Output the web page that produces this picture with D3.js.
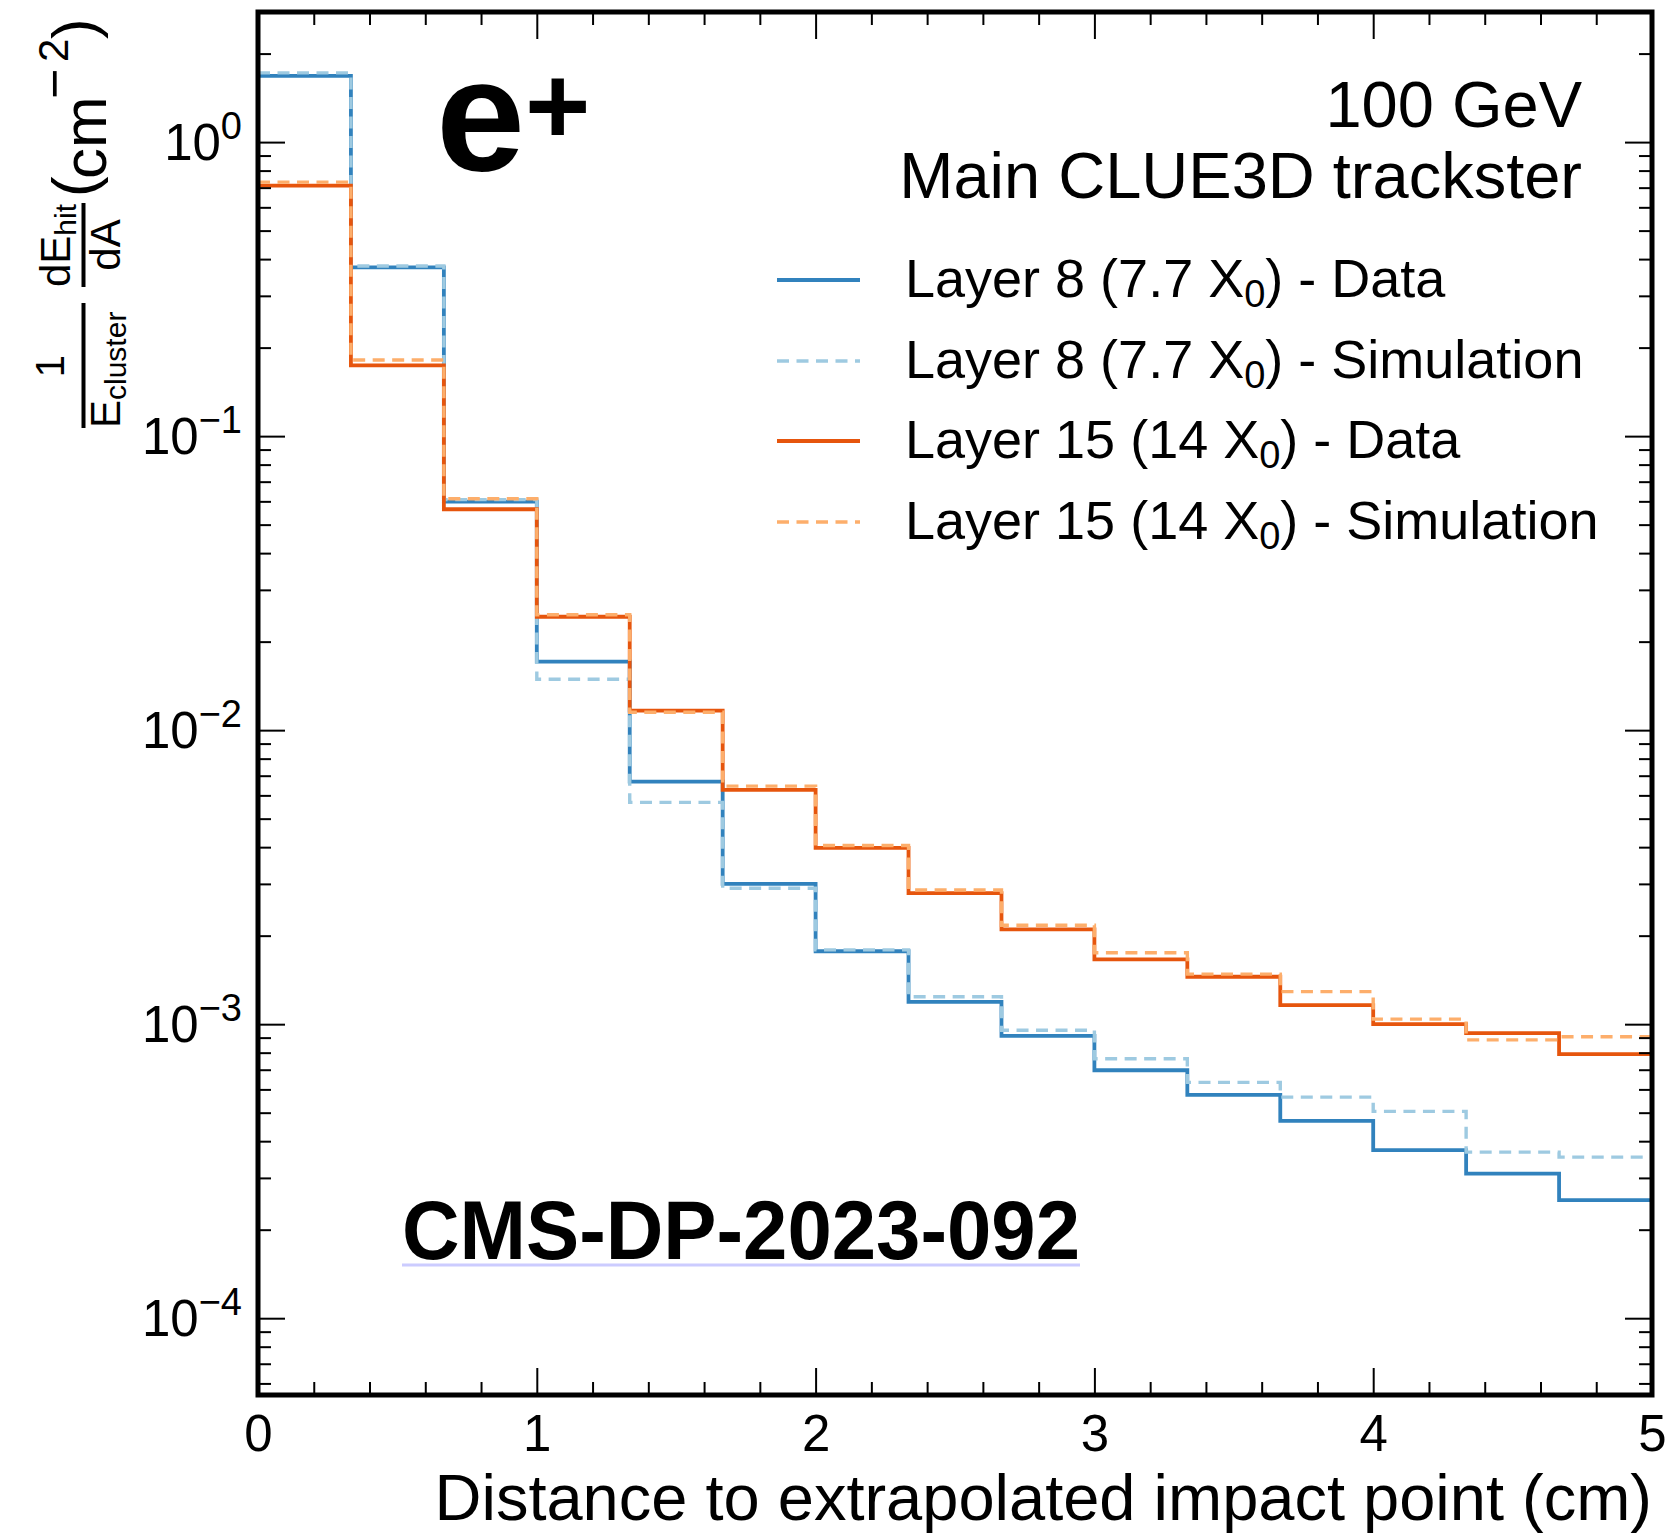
<!DOCTYPE html>
<html>
<head>
<meta charset="utf-8">
<script src="https://cdn.jsdelivr.net/npm/d3@7"></script>
<style>
body { margin: 0; background: #fff; }
text { font-family: "Liberation Sans", Arial, Helvetica, sans-serif; fill: #000; }
</style>
</head>
<body>
<script>
var binEdges = [0, 0.3333, 0.6667, 1, 1.3333, 1.6667, 2, 2.3333, 2.6667, 3, 3.3333, 3.6667, 4, 4.3333, 4.6667, 5];

var layer8Data = [1.68, 0.375, 0.0599, 0.0171, 0.00668, 0.00300, 0.00177, 0.00119, 0.000912, 0.000697, 0.000575, 0.000469, 0.000373, 0.000310, 0.000252];
var layer8Sim = [1.72, 0.379, 0.0608, 0.0149, 0.00568, 0.00290, 0.00179, 0.00124, 0.000953, 0.000763, 0.000634, 0.000565, 0.000505, 0.000367, 0.000353];
var layer15Data = [0.711, 0.174, 0.0564, 0.0243, 0.01165, 0.00626, 0.00398, 0.00279, 0.00210, 0.00166, 0.00145, 0.00116, 0.00100, 0.000933, 0.000791];
var layer15Sim = [0.731, 0.1816, 0.0612, 0.0247, 0.0115, 0.00645, 0.00405, 0.00286, 0.00217, 0.00175, 0.00148, 0.00129, 0.00104, 0.000884, 0.000906];

var xTicks = [0, 1, 2, 3, 4, 5];
var yTicks = [1e-4, 1e-3, 1e-2, 1e-1, 1];
var yTickExp = ['\u22124', '\u22123', '\u22122', '\u22121', '0'];

var series = [
	{name: 'Layer 8 (7.7 X', tail: ') - Data', values: layer8Data, color: '#3182bd', dash: null, width: 3.8},
	{name: 'Layer 8 (7.7 X', tail: ') - Simulation', values: layer8Sim, color: '#9ecae1', dash: '12,7.5', width: 3.4},
	{name: 'Layer 15 (14 X', tail: ') - Data', values: layer15Data, color: '#e6550d', dash: null, width: 3.8},
	{name: 'Layer 15 (14 X', tail: ') - Simulation', values: layer15Sim, color: '#fdae6b', dash: '12,7.5', width: 3.4}
];

var plotL = 258, plotR = 1652, plotT = 12, plotB = 1395;

var svg = d3.select('body').append('svg').attr('width', 1676).attr('height', 1536);

var x = d3.scaleLinear().domain([0, 5]).range([plotL, plotR]);
var y = d3.scaleLog().domain([5.48e-5, 2.77]).range([plotB, plotT]);

svg.append('clipPath').attr('id', 'plot-clip')
	.append('rect').attr('x', plotL).attr('y', plotT).attr('width', plotR - plotL).attr('height', plotB - plotT);

var step = d3.line().x(function(d) { return x(d[0]); }).y(function(d) { return y(d[1]); }).curve(d3.curveStepAfter);

var histG = svg.append('g').attr('clip-path', 'url(#plot-clip)');
series.forEach(function(s) {
	var pts = s.values.map(function(v, i) { return [binEdges[i], v]; });
	pts.push([binEdges[binEdges.length - 1], s.values[s.values.length - 1]]);
	histG.append('path').attr('d', step(pts))
		.attr('fill', 'none').attr('stroke', s.color).attr('stroke-width', s.width)
		.attr('stroke-dasharray', s.dash);
});

// minor tick positions
var xMinor = d3.range(0, 5.001, 0.2).filter(function(v) { return Math.abs(v - Math.round(v)) > 1e-6; });
var yMinor = [];
[-5, -4, -3, -2, -1, 0].forEach(function(e) {
	d3.range(2, 10).forEach(function(k) {
		var v = k * Math.pow(10, e);
		if (v > y.domain()[0] && v < y.domain()[1]) yMinor.push(v);
	});
});

function cleanAxis(g) {
	g.select('.domain').remove();
	g.selectAll('.tick line').attr('stroke', '#000').attr('stroke-width', 2);
}

svg.append('g').attr('transform', 'translate(0,' + plotB + ')')
	.call(d3.axisBottom(x).tickValues(xTicks).tickSize(-27).tickPadding(20).tickFormat(d3.format('d')))
	.call(cleanAxis)
	.call(function(g) { g.attr('font-size', null).attr('font-family', null); g.selectAll('text').attr('font-size', 51); });
svg.append('g').attr('transform', 'translate(0,' + plotB + ')')
	.call(d3.axisBottom(x).tickValues(xMinor).tickSize(-13).tickFormat('')).call(cleanAxis);
svg.append('g').attr('transform', 'translate(0,' + plotT + ')')
	.call(d3.axisTop(x).tickValues(xTicks).tickSize(-27).tickFormat('')).call(cleanAxis);
svg.append('g').attr('transform', 'translate(0,' + plotT + ')')
	.call(d3.axisTop(x).tickValues(xMinor).tickSize(-13).tickFormat('')).call(cleanAxis);

svg.append('g').attr('transform', 'translate(' + plotL + ',0)')
	.call(d3.axisLeft(y).tickValues(yTicks).tickSize(-27).tickFormat('')).call(cleanAxis);
svg.append('g').attr('transform', 'translate(' + plotL + ',0)')
	.call(d3.axisLeft(y).tickValues(yMinor).tickSize(-13).tickFormat('')).call(cleanAxis);
svg.append('g').attr('transform', 'translate(' + plotR + ',0)')
	.call(d3.axisRight(y).tickValues(yTicks).tickSize(-27).tickFormat('')).call(cleanAxis);
svg.append('g').attr('transform', 'translate(' + plotR + ',0)')
	.call(d3.axisRight(y).tickValues(yMinor).tickSize(-13).tickFormat('')).call(cleanAxis);

yTicks.forEach(function(v, i) {
	var t = svg.append('text').attr('x', 242).attr('y', y(v) + 18)
		.attr('text-anchor', 'end').attr('font-size', 51);
	t.append('tspan').text('10');
	t.append('tspan').attr('font-size', 38).attr('dy', -21).text(yTickExp[i]);
});

svg.append('rect').attr('x', plotL).attr('y', plotT).attr('width', plotR - plotL).attr('height', plotB - plotT)
	.attr('fill', 'none').attr('stroke', '#000').attr('stroke-width', 5);

// axis titles
svg.append('text').attr('x', plotR).attr('y', 1520).attr('text-anchor', 'end').attr('font-size', 65)
	.text('Distance to extrapolated impact point (cm)');

var yl = svg.append('g').attr('transform', 'rotate(-90)');
yl.append('text').attr('x', -366).attr('y', 64).attr('text-anchor', 'middle').attr('font-size', 40).text('1');
yl.append('line').attr('x1', -428).attr('x2', -303).attr('y1', 83.5).attr('y2', 83.5).attr('stroke', '#000').attr('stroke-width', 4);
var den1 = yl.append('text').attr('x', -428).attr('y', 120).attr('font-size', 42);
den1.append('tspan').text('E');
den1.append('tspan').attr('font-size', 30).attr('dy', 6).text('cluster');
yl.append('line').attr('x1', -287).attr('x2', -203).attr('y1', 83.5).attr('y2', 83.5).attr('stroke', '#000').attr('stroke-width', 4);
var num2 = yl.append('text').attr('x', -287).attr('y', 70).attr('font-size', 42);
num2.append('tspan').text('dE');
num2.append('tspan').attr('font-size', 30).attr('dy', 6).text('hit');
yl.append('text').attr('x', -245).attr('y', 120).attr('text-anchor', 'middle').attr('font-size', 42).text('dA');
yl.append('text').attr('x', -197).attr('y', 95).attr('font-size', 62).text('(');
yl.append('text').attr('x', -179).attr('y', 106).attr('font-size', 62).text('cm');
yl.append('text').attr('x', -99).attr('y', 72).attr('font-size', 52).text('\u2212');
yl.append('text').attr('x', -62).attr('y', 68).attr('font-size', 42).text('2');
yl.append('text').attr('x', -39).attr('y', 95).attr('font-size', 62).text(')');

// annotations
var ep = svg.append('text').attr('x', 436).attr('y', 170).attr('font-size', 160).attr('font-weight', 'bold');
ep.append('tspan').text('e');
ep.append('tspan').attr('font-size', 112).attr('dy', -26).text('+');

svg.append('text').attr('x', 1582).attr('y', 127).attr('text-anchor', 'end').attr('font-size', 65).text('100 GeV');
svg.append('text').attr('x', 1582).attr('y', 198).attr('text-anchor', 'end').attr('font-size', 65).text('Main CLUE3D trackster');

var legendY = [297, 378, 458, 539];
series.forEach(function(s, i) {
	svg.append('line').attr('x1', 777).attr('x2', 860).attr('y1', legendY[i] - 17).attr('y2', legendY[i] - 17)
		.attr('stroke', s.color).attr('stroke-width', s.width).attr('stroke-dasharray', s.dash);
	var t = svg.append('text').attr('x', 905).attr('y', legendY[i]).attr('font-size', 54);
	t.append('tspan').text(s.name);
	t.append('tspan').attr('font-size', 38).attr('dy', 10).text('0');
	t.append('tspan').attr('dy', -10).text(s.tail);
});

svg.append('text').attr('x', 402).attr('y', 1259).attr('font-size', 84).attr('font-weight', 'bold')
	.attr('textLength', 678).attr('lengthAdjust', 'spacingAndGlyphs').text('CMS-DP-2023-092');
svg.append('line').attr('x1', 402).attr('x2', 1080).attr('y1', 1265).attr('y2', 1265)
	.attr('stroke', '#ccccff').attr('stroke-width', 3);
</script>
</body>
</html>
